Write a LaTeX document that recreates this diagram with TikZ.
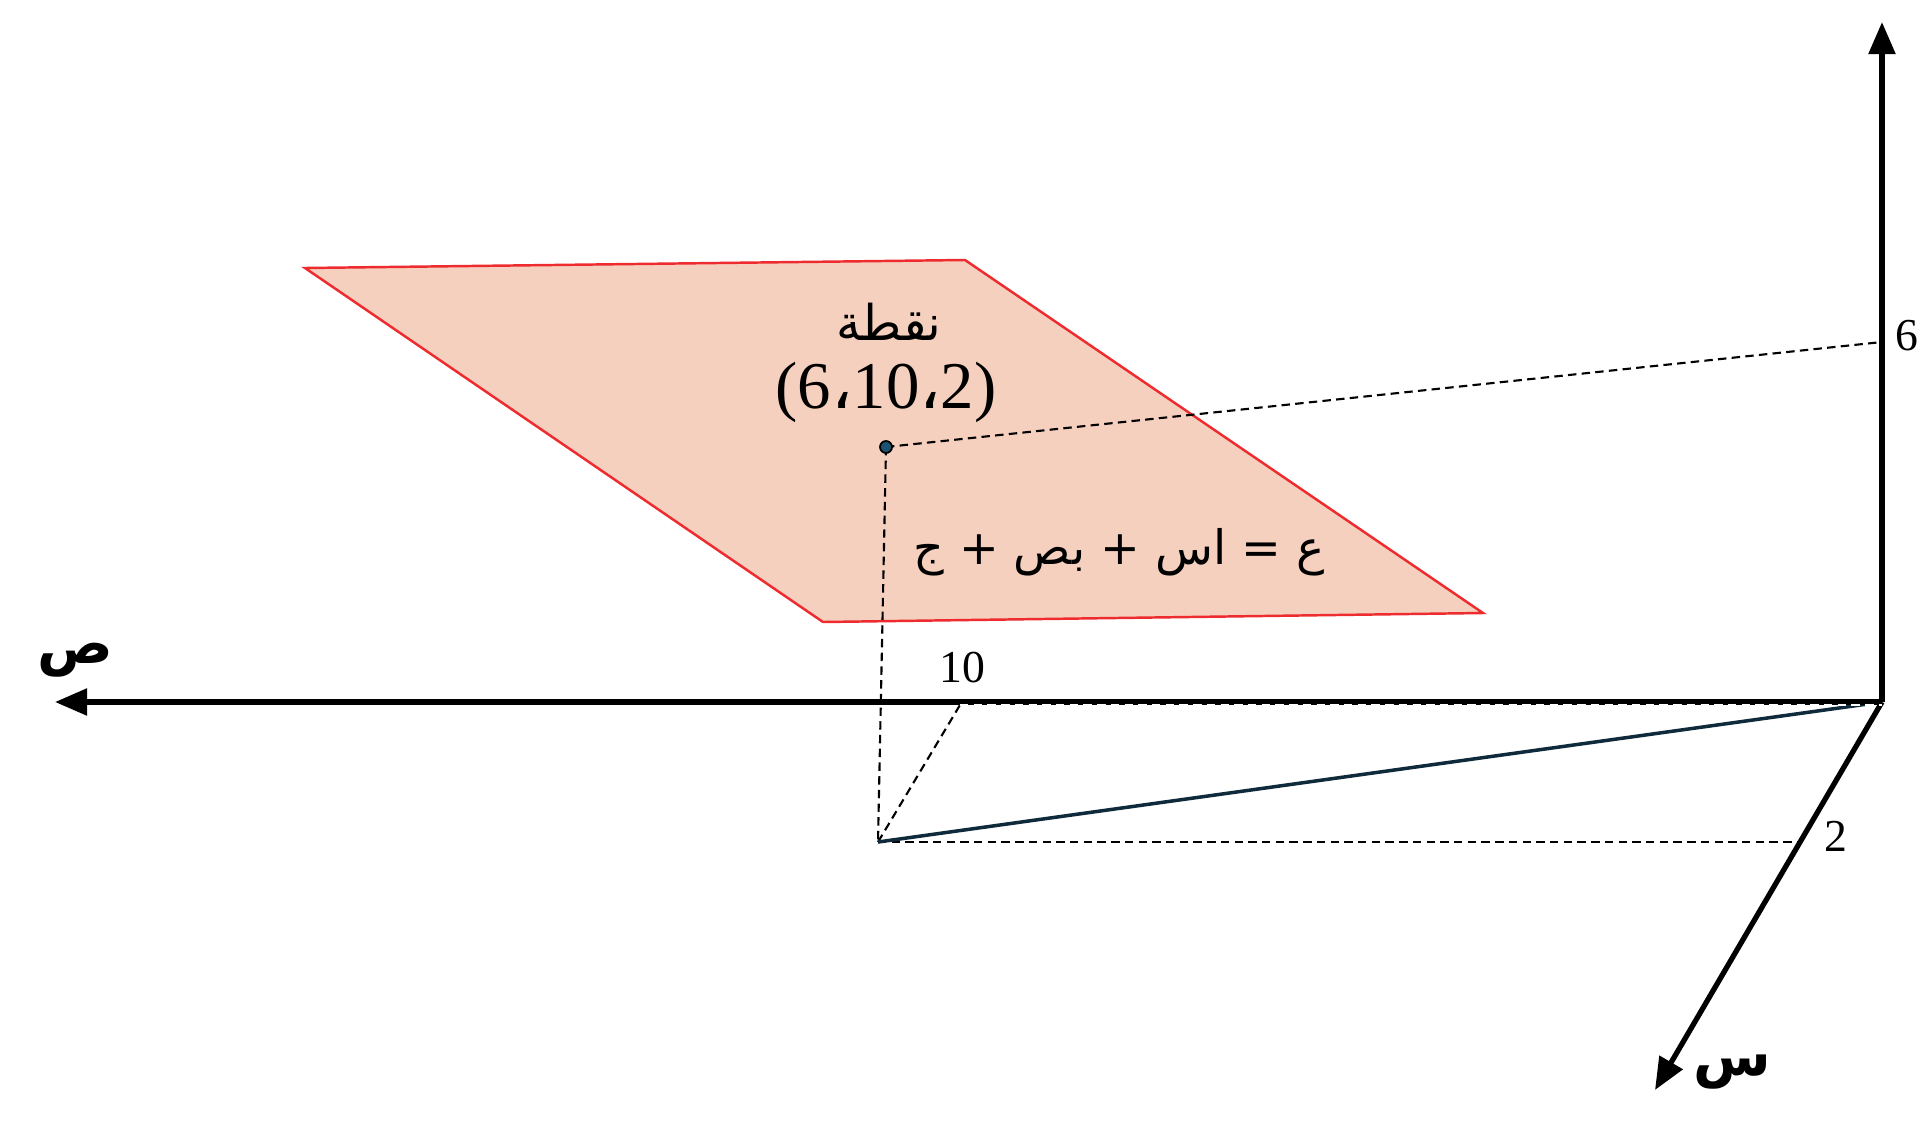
\documentclass[tikz,border=0pt]{standalone}
\usepackage{fontspec}
\setmainfont{Liberation Serif}
\newfontfamily\arabicfont[Script=Arabic]{DejaVu Sans}
\TeXXeTstate=1
\usetikzlibrary{arrows.meta}
\definecolor{planefill}{HTML}{F5D0BE}
\definecolor{planeedge}{HTML}{EE2B2F}
\definecolor{navy}{HTML}{0F2A3A}
\definecolor{dotfill}{HTML}{1E5270}
\tikzset{
  axis/.style={line width=1.5pt, -{Triangle[length=0.32cm,width=0.26cm]}},
  guide/.style={line width=0.6pt, dash pattern=on 2.4pt off 1.5pt},
  plane/.style={fill=planefill, draw=planeedge, line width=0.7pt},
  numlbl/.style={inner sep=0pt, font=\fontsize{13}{15}\selectfont},
  axlbl/.style={inner sep=0pt, font=\arabicfont\bfseries\fontsize{16}{20}\selectfont},
}
\begin{document}
\begin{tikzpicture}[x=0.01cm,y=-0.01cm]
\useasboundingbox (0,0) rectangle (1920,1142);
% key points
\coordinate (O) at (1882,702);
\coordinate (ztip) at (1882,22);
\coordinate (ytip) at (55,702);
\coordinate (xtip) at (1655,1090);
\coordinate (P) at (886,447);
\coordinate (Q) at (878,842);
\coordinate (Z6) at (1882,342);
\coordinate (Y10) at (960,705);
\coordinate (Yend) at (1882,705);
\coordinate (X2) at (1800,842);
% plane
\draw[plane] (305,268) coordinate (A) -- (965,260) coordinate (B) -- (1483,613) coordinate (C) -- (823,622) coordinate (D) -- cycle;
% guides
\draw[guide] (P) -- (Z6);
\draw[guide] (P) -- (Q);
\draw[guide] (Q) -- (Y10);
\draw[guide] (Q) -- (X2);
\draw[navy, line width=1pt] (Q) -- (O);
% axes
\draw[axis] (O) -- (ztip);
\draw[axis] (O) -- (ytip);
\draw[axis] (O) -- (xtip);
\draw[guide, white] (Y10) -- (Yend);
% point
\filldraw[fill=dotfill, draw=black, line width=0.5pt] (P) circle (6);
% labels
\node[numlbl] (l6) at (1907,336) {6};
\node[numlbl] (l10) at (962,668) {10};
\node[numlbl] (l2) at (1836,836) {2};
\node[axlbl] (ly) at (75,660) {\beginR ص\endR};
\node[axlbl] (lx) at (1732,1072) {\beginR س\endR};
\node[inner sep=0pt, font=\arabicfont\fontsize{14}{16}\selectfont] (lpt) at (889,322) {\beginR نقطة\endR};
\node[inner sep=0pt, font=\fontsize{19}{22}\selectfont] (lco) at (886,392) {(6{\arabicfont ،}10{\arabicfont ،}2)};
\node[inner sep=0pt, font=\arabicfont\fontsize{13.5}{16}\selectfont] (leq) at (1119,552) {\beginR ع = اس + بص + ج\endR};
\end{tikzpicture}
\end{document}
